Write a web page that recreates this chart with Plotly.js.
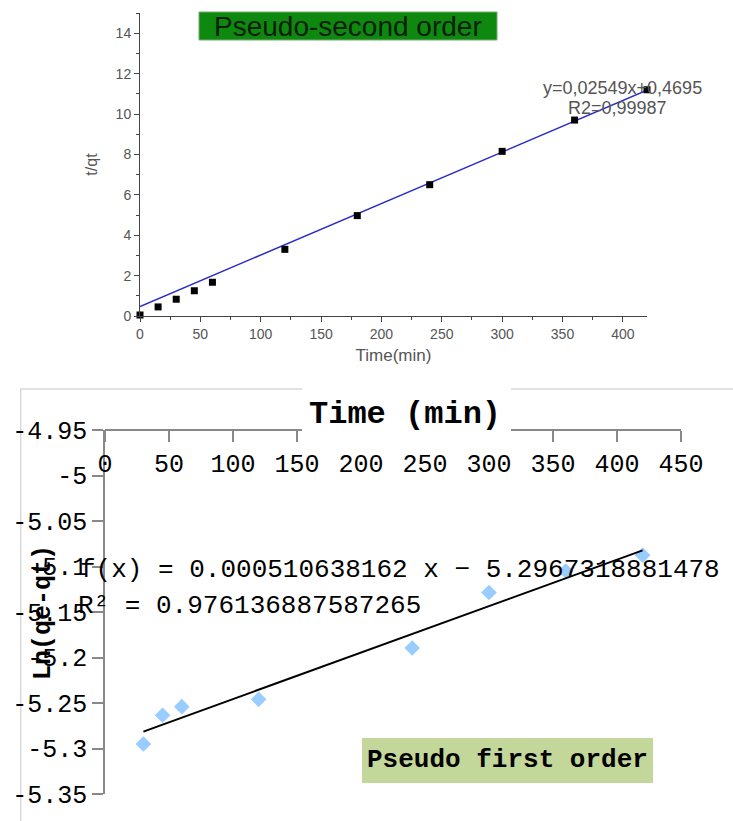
<!DOCTYPE html>
<html>
<head>
<meta charset="utf-8">
<script src="https://cdn.plot.ly/plotly-3.0.1.min.js"></script>
<style>html,body{margin:0;padding:0;background:#fff;}#chart{width:733px;height:821px;}</style>
</head>
<body>
<div id="chart"></div>
<script>
// ---- Pseudo-second order data (t/qt vs time) ----
const time2 = [0, 15, 30, 45, 60, 120, 180, 240, 300, 360, 420];
const tqt = [0.05, 0.45, 0.83, 1.25, 1.67, 3.3, 4.97, 6.5, 8.15, 9.7, 11.2];
const fit2Slope = 0.02549;
const fit2Intercept = 0.4695;

// ---- Pseudo-first order data (Ln(qe-qt) vs time) ----
const time1 = [30, 45, 60, 120, 240, 300, 360, 420];
const lnqe = [-5.295, -5.2635, -5.254, -5.246, -5.1895, -5.1285, -5.105, -5.0875];
const fit1Slope = 0.000510638162;
const fit1Intercept = -5.2967318881478;

// tick labels of the lower chart
const y2TickVals = [-4.95, -5, -5.05, -5.1, -5.15, -5.2, -5.25, -5.3, -5.35];
const y2TickText = ['-4.95', '-5', '-5.05', '-5.1', '-5.15', '-5.2', '-5.25', '-5.3', '-5.35'];

const W = 733, H = 821;
const px = v => v / W;
const py = v => 1 - v / H;

const fit2X = [Math.min(...time2), Math.max(...time2)];
const fit2Y = fit2X.map(x => fit2Slope * x + fit2Intercept);
const fit1X = [Math.min(...time1), Math.max(...time1)];
const fit1Y = fit1X.map(x => fit1Slope * x + fit1Intercept);

const traces = [
  {x: fit2X, y: fit2Y, xaxis: 'x', yaxis: 'y', mode: 'lines', type: 'scatter',
   line: {color: '#2a2ac8', width: 1.5}, hoverinfo: 'skip'},
  {x: time2, y: tqt, xaxis: 'x', yaxis: 'y', mode: 'markers', type: 'scatter', cliponaxis: false,
   marker: {symbol: 'square', size: 7, color: '#000'}},
  {x: time1, y: lnqe, xaxis: 'x2', yaxis: 'y2', mode: 'markers', type: 'scatter', cliponaxis: false,
   marker: {symbol: 'diamond', size: 12, color: '#99ccff'}},
  {x: fit1X, y: fit1Y, xaxis: 'x2', yaxis: 'y2', mode: 'lines', type: 'scatter',
   line: {color: '#000', width: 2}, hoverinfo: 'skip'}
];

const sansGray = {family: 'Liberation Sans, Arial, sans-serif', size: 14, color: '#555'};
const mono = {family: 'Liberation Mono, monospace', size: 25, color: '#000'};

const layout = {
  width: W, height: H,
  margin: {l: 0, r: 0, t: 0, b: 0},
  paper_bgcolor: '#fff', plot_bgcolor: 'rgba(0,0,0,0)',
  showlegend: false,
  xaxis: {
    domain: [px(140), px(647)], range: [0, 420], anchor: 'y',
    showline: true, linecolor: '#444', linewidth: 1,
    ticks: 'outside', ticklen: 5, tickcolor: '#444', tick0: 0, dtick: 50,
    minor: {ticks: 'outside', ticklen: 3, dtick: 25, tickcolor: '#444'},
    showgrid: false, zeroline: false, tickfont: sansGray,
    title: {text: 'Time(min)', font: {family: 'Liberation Sans, Arial, sans-serif', size: 17, color: '#555'}, standoff: 8}
  },
  yaxis: {
    domain: [py(316), py(13)], range: [0, 15], anchor: 'x',
    showline: true, linecolor: '#444', linewidth: 1,
    ticks: 'outside', ticklen: 5, tickcolor: '#444', tick0: 0, dtick: 2,
    minor: {ticks: 'outside', ticklen: 3, dtick: 1, tickcolor: '#444'},
    showgrid: false, zeroline: false, tickfont: sansGray,
    title: {text: 't/qt', font: {family: 'Liberation Sans, Arial, sans-serif', size: 16, color: '#555'}, standoff: 14}
  },
  xaxis2: {
    domain: [px(105), px(681)], range: [0, 450], anchor: 'free', position: py(430), side: 'bottom',
    showline: true, linecolor: '#888', linewidth: 1.5,
    ticks: 'outside', ticklen: 11, tickcolor: '#888', tickwidth: 1.5, tick0: 0, dtick: 50,
    showgrid: false, zeroline: false, tickfont: mono
  },
  yaxis2: {
    domain: [py(794), py(430)], range: [-5.35, -4.95], anchor: 'x2',
    tickvals: y2TickVals, ticktext: y2TickText,
    showline: true, linecolor: '#888', linewidth: 1.5,
    ticks: 'outside', ticklen: 11, tickcolor: '#888', tickwidth: 1.5,
    showgrid: false, zeroline: false, tickfont: mono
  },
  shapes: [
    {type: 'rect', xref: 'paper', yref: 'paper', x0: px(20.7), x1: 1.02, y0: -0.02, y1: py(389),
     line: {color: '#d9d9d9', width: 1.5}, fillcolor: 'rgba(0,0,0,0)', layer: 'below'},
    {type: 'rect', xref: 'paper', yref: 'paper', x0: px(302), x1: px(511), y0: py(444), y1: py(386),
     line: {width: 0}, fillcolor: '#fff', layer: 'above'},
    {type: 'rect', xref: 'paper', yref: 'paper', x0: px(199), x1: px(497), y0: py(40), y1: py(12),
     line: {color: '#6fae6f', width: 1}, fillcolor: '#0e880e', layer: 'above'},
    {type: 'rect', xref: 'paper', yref: 'paper', x0: px(362), x1: px(653), y0: py(783), y1: py(738),
     line: {width: 0}, fillcolor: '#c4d79b', layer: 'above'}
  ],
  annotations: [
    {xref: 'paper', yref: 'paper', x: px(348), y: py(26), text: 'Pseudo-second order', showarrow: false,
     xanchor: 'center', yanchor: 'middle',
     font: {family: 'Liberation Sans, Arial, sans-serif', size: 28, color: '#0b1f0b'}},
    {xref: 'paper', yref: 'paper', x: px(622), y: py(88), text: 'y=0,02549x+0,4695', showarrow: false,
     xanchor: 'center', yanchor: 'middle',
     font: {family: 'Liberation Sans, Arial, sans-serif', size: 18, color: '#555'}},
    {xref: 'paper', yref: 'paper', x: px(617), y: py(108), text: 'R2=0,99987', showarrow: false,
     xanchor: 'center', yanchor: 'middle',
     font: {family: 'Liberation Sans, Arial, sans-serif', size: 18, color: '#555'}},
    {xref: 'paper', yref: 'paper', x: px(405), y: py(414), text: '<b>Time (min)</b>', showarrow: false,
     xanchor: 'center', yanchor: 'middle',
     font: {family: 'Liberation Mono, monospace', size: 32, color: '#000'}},
    {xref: 'paper', yref: 'paper', x: px(43), y: py(613), text: '<b>Ln(qe-qt)</b>', showarrow: false,
     textangle: -90, xanchor: 'center', yanchor: 'middle',
     font: {family: 'Liberation Mono, monospace', size: 25, color: '#000'}},
    {xref: 'paper', yref: 'paper', x: px(78), y: py(570), text: 'f(x) = 0.000510638162 x − 5.2967318881478', showarrow: false,
     xanchor: 'left', yanchor: 'middle',
     font: {family: 'Liberation Mono, monospace', size: 26, color: '#000'}},
    {xref: 'paper', yref: 'paper', x: px(76), y: py(606), text: 'R² = 0.976136887587265', showarrow: false,
     xanchor: 'left', yanchor: 'middle',
     font: {family: 'Liberation Mono, monospace', size: 26, color: '#000'}},
    {xref: 'paper', yref: 'paper', x: px(507), y: py(760), text: '<b>Pseudo first order</b>', showarrow: false,
     xanchor: 'center', yanchor: 'middle',
     font: {family: 'Liberation Mono, monospace', size: 26, color: '#000'}}
  ]
};

Plotly.newPlot('chart', traces, layout, {displayModeBar: false, responsive: false});
</script>
</body>
</html>
